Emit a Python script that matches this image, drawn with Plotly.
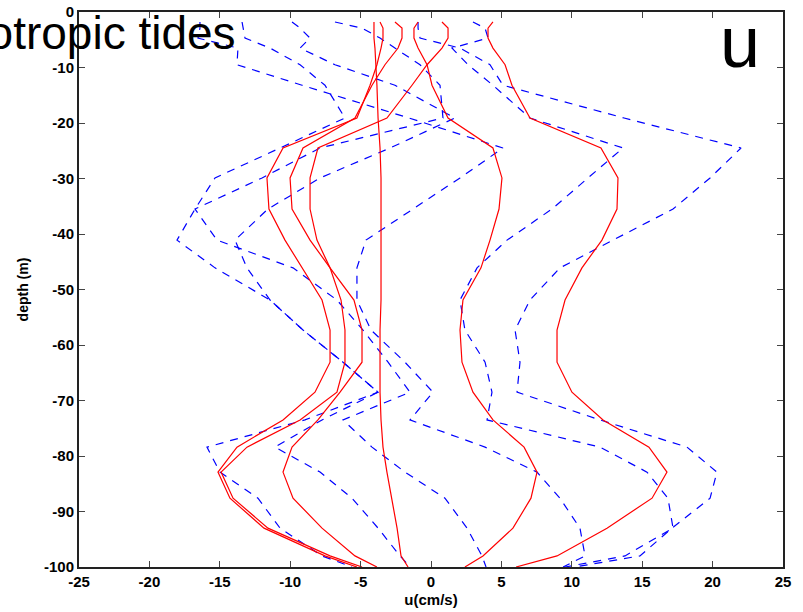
import plotly.graph_objects as go

# depth levels (m)
depth = [-1.8, -2.9, -4.7, -6.5, -9.5, -13.2, -19.1, -24.5, -29.9, -35.5, -41.1, -46.1,
         -51.9, -57.3, -63.1, -68.5, -73.5, -78.4, -82.9, -87.6, -93.0, -98.0, -100.0]

# model profiles (red, solid) u in cm/s
red_1 = [-4.05, -4.05, -4.05, -3.98, -3.91, -3.84, -3.76, -3.62, -3.55, -3.55, -3.55, -3.55,
         -3.55, -3.62, -3.62, -3.62, -3.55, -3.41, -3.13, -2.77, -2.41, -2.13, -1.63]
red_2 = [-3.62, -3.41, -3.41, -3.55, -3.84, -4.33, -5.26, -10.51, -11.65, -11.51, -10.37, -9.16,
         -7.74, -7.17, -7.17, -8.24, -10.51, -13.78, -15.13, -14.28, -11.86, -7.53, -5.26]
red_3 = [-2.56, -2.06, -2.06, -2.34, -3.27, -4.19, -5.40, -9.09, -10.01, -9.87, -8.59, -7.17,
         -6.39, -6.11, -6.11, -6.68, -9.30, -13.07, -14.91, -14.06, -11.58, -7.17, -4.90]
red_4 = [0.78, 1.21, 1.21, 0.78, -0.28, -1.35, -3.13, -8.03, -8.59, -8.59, -8.10, -7.17,
         -5.47, -4.90, -4.90, -6.46, -8.03, -9.87, -10.51, -9.80, -7.74, -5.40, -3.84]
red_5 = [-0.92, -1.21, -1.21, -0.92, -0.28, 0.07, 1.21, 4.40, 5.04, 4.83, 4.19, 3.55,
         2.27, 2.06, 2.20, 2.98, 4.40, 6.61, 7.53, 7.10, 5.82, 3.69, 2.41]
red_6 = [4.40, 4.05, 4.05, 4.40, 5.26, 5.75, 7.03, 12.07, 13.28, 13.21, 12.14, 10.72,
         9.52, 8.95, 8.95, 10.01, 12.22, 15.48, 16.76, 15.70, 12.50, 8.95, 6.04]

# observed profiles (blue, dashed) u in cm/s
blue_1 = [-0.92, -0.92, -0.78, 2.06, 4.19, 5.11, 13.71, 22.02, 19.82, 17.19, 12.93, 9.16,
          7.03, 5.97, 6.32, 6.11, 12.00, 18.18, 20.31, 19.82, 17.12, 14.84, 10.23]
blue_2 = [2.98, 3.84, 4.05, 1.49, 2.63, 4.40, 7.03, 13.64, 11.15, 8.59, 5.40, 3.27,
          2.06, 2.41, 3.84, 4.33, 3.98, 12.00, 15.34, 16.83, 17.19, 13.78, 9.52]
blue_3 = [-16.41, -16.41, -16.55, -13.71, -13.78, -9.16, -1.56, 5.11, 2.06, -1.28, -4.62, -5.26,
          -5.26, -4.26, -1.85, 0.14, -1.49, 3.84, 7.53, 9.16, 10.58, 10.94, 9.38]
blue_4 = [-13.42, -13.35, -13.21, -11.43, -9.30, -7.53, -6.11, -10.72, -15.34, -16.76, -18.04, -15.34,
          -11.43, -9.09, -6.25, -3.76, -8.95, -15.91, -14.99, -12.29, -10.72, -7.74, -5.61]
blue_5 = [-9.87, -9.30, -8.59, -9.30, -6.82, -2.56, 1.70, -2.91, -7.88, -11.58, -13.92, -13.07,
          -11.43, -9.09, -6.25, -3.76, -7.74, -11.08, -7.88, -5.61, -3.76, -2.20, -1.49]
blue_6 = [-6.82, -4.90, -3.62, -2.56, -0.78, 0.64, 0.85, -7.88, -12.00, -16.76, -15.20, -9.80,
          -6.68, -4.83, -3.05, -1.49, -6.25, -4.19, -1.85, 0.99, 2.56, 3.62, 3.91]

x_tick_vals = [-25, -20, -15, -10, -5, 0, 5, 10, 15, 20, 25]
x_tick_text = ["-25", "-20", "-15", "-10", "-5", "0", "5", "10", "15", "20", "25"]
y_tick_vals = [0, -10, -20, -30, -40, -50, -60, -70, -80, -90, -100]
y_tick_text = ["0", "-10", "-20", "-30", "-40", "-50", "-60", "-70", "-80", "-90", "-100"]

FONT = "Liberation Sans, Arial, Helvetica, sans-serif"

fig = go.Figure()
for prof in [blue_1, blue_2, blue_3, blue_4, blue_5, blue_6]:
    fig.add_trace(go.Scatter(x=prof, y=depth, mode="lines",
                             line=dict(color="#0000ff", width=1.2, dash="8px,7px"),
                             showlegend=False, hoverinfo="skip"))
for prof in [red_1, red_2, red_3, red_4, red_5, red_6]:
    fig.add_trace(go.Scatter(x=prof, y=depth, mode="lines",
                             line=dict(color="#ff0000", width=1.2),
                             showlegend=False, hoverinfo="skip"))

axis_common = dict(showline=True, linecolor="#222222", linewidth=2, mirror="ticks",
                   ticks="inside", ticklen=6, tickwidth=1, tickcolor="#444444",
                   showgrid=False, zeroline=False, automargin=False,
                   tickfont=dict(family=FONT, size=15, color="black", weight="bold"))

fig.update_layout(
    width=803, height=612,
    margin=dict(l=79, r=20, t=12, b=45),
    paper_bgcolor="white", plot_bgcolor="white",
    xaxis=dict(range=[-25, 25], tickvals=x_tick_vals, ticktext=x_tick_text,
               title=dict(text="u(cm/s)", standoff=5,
                          font=dict(family=FONT, size=15, color="black", weight="bold")),
               **axis_common),
    yaxis=dict(range=[-100, 0], tickvals=y_tick_vals, ticktext=y_tick_text,
               title=dict(text="depth (m)", standoff=12,
                          font=dict(family=FONT, size=14, color="black", weight="bold")),
               **axis_common),
    annotations=[
        dict(text="Barotropic tides", xref="paper", yref="paper",
             x=(238 - 79) / 704, y=(567 - 33) / 555, xanchor="right", yanchor="middle",
             showarrow=False, font=dict(family=FONT, size=46, color="black")),
        dict(text="u", xref="paper", yref="paper",
             x=(740 - 79) / 704, y=(567 - 42) / 555, xanchor="center", yanchor="middle",
             showarrow=False, font=dict(family=FONT, size=72, color="black")),
    ],
)

fig.write_html("out.html")
